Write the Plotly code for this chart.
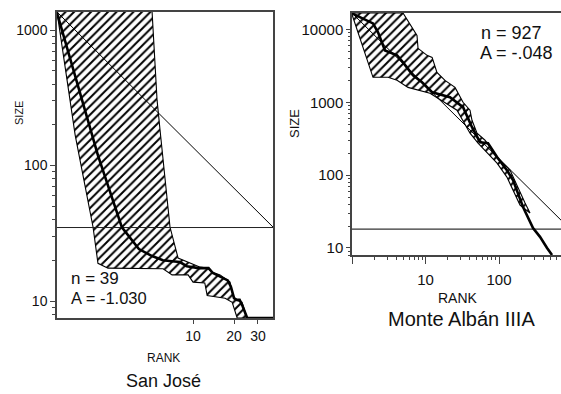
import math
import plotly.graph_objects as go

# ---------------- data: San José (left) ----------------
sj_rank = [1, 2, 3, 4, 5, 6, 7, 8, 9, 10, 11, 12, 13, 14, 15, 16, 17, 18, 19, 20, 21, 22, 23, 24, 25, 39]
sj_size = [1340, 119, 35, 24.2, 21.5, 20.0, 19.7, 19.4, 18.1, 17.8, 17.5, 17.5, 17.5, 16.1, 15.6, 15.0,
           14.7, 14.2, 12.7, 10.5, 10.2, 10.2, 9.3, 8.3, 7.5, 7.5]
sj_lo_rank = [1, 1.36, 1.84, 1.97, 2.0, 2.37, 6.02, 7.01, 9.2, 10.0, 12.2, 12.7, 17.2, 19.4, 20.4, 21.1]
sj_lo_size = [1360, 168, 35.2, 20.1, 19.0, 17.5, 17.3, 15.6, 15.6, 13.8, 13.6, 11.0, 10.5, 9.8, 8.2, 7.5]
sj_hi_rank = [5.0, 5.44, 5.72, 6.02, 6.77, 7.76, 9.03, 11.3, 12.7, 13.8, 15.8, 17.8, 18.7, 19.4, 20.4, 22.9, 24.9]
sj_hi_size = [1360, 304, 183, 104, 35.2, 20.8, 19.4, 17.8, 17.5, 16.4, 15.6, 14.3, 13.8, 11.6, 10.2, 9.8, 7.5]
sj_zipf_rank = [1, 39]
sj_zipf_size = [1360, 34.9]
sj_n = 39
sj_A = "-1.030"

# ---------------- data: Monte Albán IIIA (right) ----------------
ma_rank = [1, 1.93, 2.26, 2.81, 4.1, 4.94, 6.76, 8.96, 12.3, 21.5, 32.4, 42.9, 55.1, 70.8, 93.9, 128, 155,
           212, 290, 361, 450, 526]
ma_size = [16600, 12080, 9100, 5150, 4400, 3530, 2345, 1880, 1372, 1170, 855, 455, 283, 274, 177, 117, 85.5,
           36.5, 18.8, 14.2, 10, 8.0]
ma_hi_rank = [1, 4.94, 7.66, 7.91, 10.5, 12.3, 14.3, 18.4, 25.2, 32.4, 40.3, 42.9, 50.2, 64.5, 75.4, 82.8,
              103, 141, 226, 264]
ma_hi_size = [16800, 16800, 8280, 5500, 4400, 4130, 2575, 2000, 1600, 1000, 777, 566, 376, 301, 242, 200,
              160, 117, 41.3, 30.1]
ma_lo_rank = [1, 1.93, 3.09, 4.1, 5.78, 11.5, 26.8, 32.4, 40.3, 51.8, 68.7, 93.9, 128, 193, 264]
ma_lo_size = [16000, 2200, 2200, 2000, 1600, 1330, 777, 566, 376, 274, 207, 146, 94, 38.8, 30.1]
ma_zipf_rank = [1, 927]
ma_zipf_size = [16800, 18.1]
ma_n = 927
ma_A = "-.048"

W, H = 561, 394
FONT = "Liberation Sans, Arial, sans-serif"
INK = "#111111"
AX = "#444444"


def px(x):
    return x / W


def py(y):
    return 1 - y / H


def decade_minors(lo, hi):
    vals = []
    e = math.floor(math.log10(lo))
    while 10 ** e <= hi:
        for m in range(2, 10):
            v = m * 10 ** e
            if lo <= v <= hi:
                vals.append(v)
        e += 1
    return vals


hatch = dict(shape="/", size=6, solidity=0.33, fgcolor="black", fgopacity=1, bgcolor="white")

fig = go.Figure()

# left panel
fig.add_trace(go.Scatter(x=sj_lo_rank + sj_hi_rank[::-1], y=sj_lo_size + sj_hi_size[::-1],
                         fill="toself", fillpattern=hatch, mode="lines",
                         line=dict(color="black", width=1.1), xaxis="x", yaxis="y", hoverinfo="skip"))
fig.add_trace(go.Scatter(x=sj_zipf_rank, y=sj_zipf_size, mode="lines",
                         line=dict(color="black", width=1), xaxis="x", yaxis="y"))
fig.add_trace(go.Scatter(x=[sj_zipf_rank[0], sj_zipf_rank[-1]], y=[sj_zipf_size[-1]] * 2, mode="lines",
                         line=dict(color="#222", width=1), xaxis="x", yaxis="y"))
fig.add_trace(go.Scatter(x=sj_rank, y=sj_size, mode="lines",
                         line=dict(color="black", width=2.6), xaxis="x", yaxis="y"))

# right panel
fig.add_trace(go.Scatter(x=ma_hi_rank + ma_lo_rank[::-1], y=ma_hi_size + ma_lo_size[::-1],
                         fill="toself", fillpattern=hatch, mode="lines",
                         line=dict(color="black", width=1.1), xaxis="x2", yaxis="y2", hoverinfo="skip"))
fig.add_trace(go.Scatter(x=ma_zipf_rank, y=ma_zipf_size, mode="lines",
                         line=dict(color="black", width=1), xaxis="x2", yaxis="y2"))
fig.add_trace(go.Scatter(x=[ma_zipf_rank[0], ma_zipf_rank[-1]], y=[ma_zipf_size[-1]] * 2, mode="lines",
                         line=dict(color="#333", width=1.2), xaxis="x2", yaxis="y2"))
fig.add_trace(go.Scatter(x=ma_rank, y=ma_size, mode="lines",
                         line=dict(color="black", width=2.6), xaxis="x2", yaxis="y2"))

common = dict(type="log", showgrid=False, zeroline=False, showline=True, linecolor=AX, linewidth=1.5,
              ticks="outside", tickcolor=AX, tickwidth=1, tickfont=dict(family=FONT, color=INK))

fig.update_layout(
    width=W, height=H, margin=dict(l=0, r=0, t=0, b=0),
    paper_bgcolor="white", plot_bgcolor="white", showlegend=False,
    xaxis=dict(**common, domain=[px(57), px(273)], range=[0, math.log10(38.7)], anchor="y", mirror=True,
               tickmode="array", tickvals=[10, 20, 30], ticktext=["10", "20", "30"], ticklen=4,
               tickfont_size=14),
    yaxis=dict(**common, domain=[py(318), py(12)], range=[math.log10(7.5), math.log10(1360)], anchor="x",
               mirror=True, tickmode="array", tickvals=[10, 100, 1000], ticktext=["10", "100", "1000"],
               ticklen=5, tickfont_size=14,
               minor=dict(tickmode="array", tickvals=decade_minors(7.5, 1360), ticks="outside", ticklen=3,
                          tickcolor=AX)),
    xaxis2=dict(**common, domain=[px(352), 1.0], range=[0, 2.843], anchor="y2", mirror=True,
                tickmode="array", tickvals=[1, 10, 100], ticktext=["", "10", "100"], ticklen=7,
                tickfont_size=15, ticklabelstandoff=3,
                minor=dict(tickmode="array", tickvals=decade_minors(1, 697), ticks="outside", ticklen=3,
                           tickcolor=AX)),
    yaxis2=dict(**common, domain=[py(255), py(13)], range=[math.log10(8), math.log10(16800)], anchor="x2",
                tickmode="array", tickvals=[10, 100, 1000, 10000], ticktext=["10", "100", "1000", "10000"],
                ticklen=4, tickfont_size=15,
                minor=dict(tickmode="array", tickvals=decade_minors(8, 16800), ticks="outside", ticklen=2,
                           tickcolor=AX)),
)


def txt(x, y, s, size, xanchor="center", angle=0):
    fig.add_annotation(x=px(x), y=py(y), xref="paper", yref="paper", text=s, showarrow=False,
                       xanchor=xanchor, yanchor="middle", textangle=angle,
                       font=dict(family=FONT, size=size, color=INK))


txt(19, 113, "SIZE", 11, angle=-90)
txt(163, 358, "RANK", 12)
txt(163, 381, "San José", 18)
txt(69, 278, f"n = {sj_n}", 17, xanchor="left")
txt(69, 298, f"A = {sj_A}", 16.5, xanchor="left")

txt(294, 124, "SIZE", 13, angle=-90)
txt(458, 298, "RANK", 14)
txt(461, 319, "Monte Albán IIIA", 20)
txt(479, 33, f"n = {ma_n}", 18, xanchor="left")
txt(478, 53, f"A = {ma_A}", 18, xanchor="left")

fig.write_html("out.html", config={"displayModeBar": False},
               post_script="document.body.style.margin='0';document.body.style.overflow='hidden';")
